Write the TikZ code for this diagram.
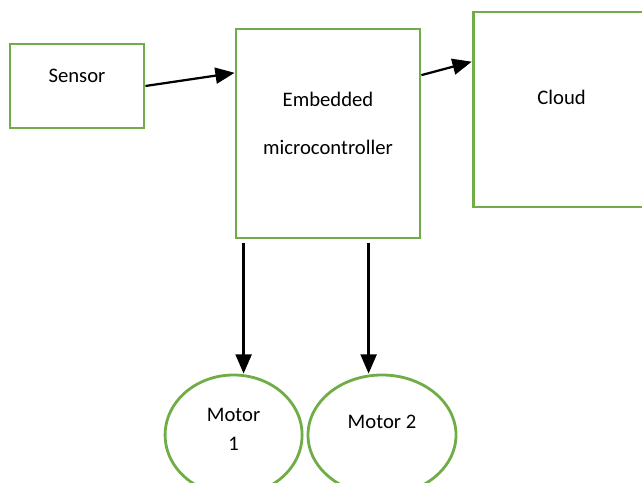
\documentclass[tikz,border=0pt]{standalone}
\usepackage{fontspec}
\setmainfont{Carlito}
\usetikzlibrary{shapes.geometric,arrows.meta}

\definecolor{boxgreen}{RGB}{112,173,71}

\tikzstyle{block} = [draw=boxgreen,line width=2pt]
\tikzstyle{motor} = [ellipse,draw=boxgreen,line width=2pt,
                     minimum height=3cm]
\tikzstyle{link}  = [line width=1.6pt,-{Triangle[length=0.48cm,width=0.4cm]}]

\begin{document}
\begin{tikzpicture}[font=\fontsize{14.7}{20}\selectfont]
  \useasboundingbox (0,0) rectangle (16.05,12.075);

  \node[block,minimum width=3.35cm,minimum height=2.1cm] at (1.925,9.925) (sensor) {};
  \node[block,minimum width=4.6cm,minimum height=5.225cm] at (8.2,8.7375) (ctrl) {};
  \node[block,minimum width=4.425cm,minimum height=4.875cm] at (14.04,9.3375) (cloud) {};
  \node[motor,minimum width=3.425cm] at (5.84,1.2) (motor1) {};
  \node[motor,minimum width=3.7cm] at (9.55,1.2) (motor2) {};

  % texts sit above the centres
  \node at ([yshift=0.25cm]sensor.center) (sensortxt) {Sensor};
  \node[align=center,font=\fontsize{14.7}{34}\selectfont]
       at ([yshift=0.26cm]ctrl.center) (ctrltxt) {Embedded\\microcontroller};
  \node at ([yshift=0.29cm]cloud.center) (cloudtxt) {Cloud};
  \node[align=center] at ([yshift=0.14cm]motor1.center) (motor1txt) {Motor\\1};
  \node at ([yshift=0.32cm]motor2.center) (motor2txt) {Motor 2};

  \coordinate (out1) at ([xshift=0.225cm,yshift=-0.1cm]ctrl.south west);
  \coordinate (out2) at ([xshift=3.35cm,yshift=-0.1cm]ctrl.south west);

  \draw[link] (sensor.east) -- (ctrl.147.5);
  \draw[link] (ctrl.32.5) -- (cloud.152.4);
  \draw[link] (out1) -- (out1 |- motor1.north);
  \draw[link] (out2) -- (out2 |- motor2.north);
\end{tikzpicture}
\end{document}
